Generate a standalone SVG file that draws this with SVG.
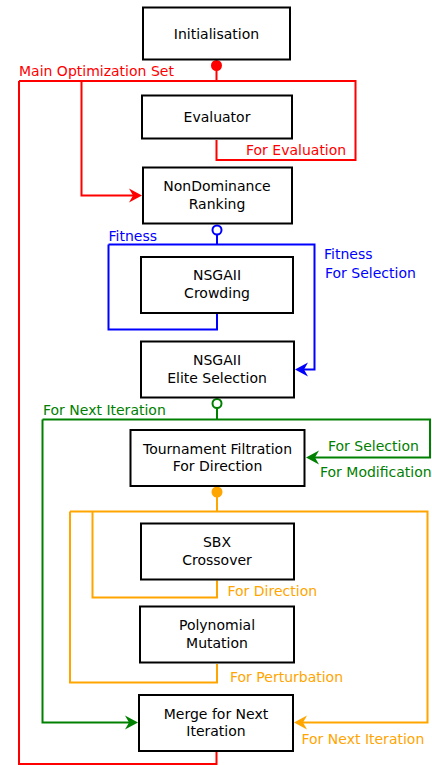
<svg xmlns="http://www.w3.org/2000/svg" width="432" height="765" viewBox="0 0 432 765">
<defs>
<style>
.box{fill:#fff;stroke:#000;stroke-width:2}
.nt{font-family:"DejaVu Sans","Liberation Sans",sans-serif;font-size:14px;fill:#000;text-anchor:middle}
.lb{font-family:"DejaVu Sans","Liberation Sans",sans-serif;font-size:14px}
.c{fill:none;stroke-width:2}
.r{stroke:#ff0000}.rt{fill:#ff0000}
.b{stroke:#0000ff}.bt{fill:#0000ff}
.g{stroke:#008000}.gt{fill:#008000}
.o{stroke:#ffa500}.ot{fill:#ffa500}
</style>
<marker id="ar" markerUnits="userSpaceOnUse" viewBox="-11 -8 15 16" refX="0" refY="0" markerWidth="15" markerHeight="16" orient="auto"><path d="M3,0 L-10,-7 L-6,0 L-10,7 Z" fill="#ff0000"/></marker>
<marker id="ab" markerUnits="userSpaceOnUse" viewBox="-11 -8 15 16" refX="0" refY="0" markerWidth="15" markerHeight="16" orient="auto"><path d="M3,0 L-10,-7 L-6,0 L-10,7 Z" fill="#0000ff"/></marker>
<marker id="ag" markerUnits="userSpaceOnUse" viewBox="-11 -8 15 16" refX="0" refY="0" markerWidth="15" markerHeight="16" orient="auto"><path d="M3,0 L-10,-7 L-6,0 L-10,7 Z" fill="#008000"/></marker>
<marker id="ao" markerUnits="userSpaceOnUse" viewBox="-11 -8 15 16" refX="0" refY="0" markerWidth="15" markerHeight="16" orient="auto"><path d="M3,0 L-10,-7 L-6,0 L-10,7 Z" fill="#ffa500"/></marker>
</defs>
<rect width="432" height="765" fill="#fff"/>
<g id="connectors">
<path class="c r" d="M216.5,65 V81"/>
<path class="c r" d="M19,81 H355.5 V160 H216.5 V140"/>
<path class="c r" d="M81.5,81 V195.5 H139" marker-end="url(#ar)"/>
<path class="c r" d="M216.5,752 V764 H19 V81"/>
<circle cx="216.5" cy="65.5" r="5.5" fill="#ff0000"/>
<path class="c b" d="M217,234.5 V244.5"/>
<path class="c b" d="M108.5,244.5 H314.5 V369.5 H298" marker-end="url(#ab)"/>
<path class="c b" d="M108.5,244.5 V329.5 H217 V314"/>
<circle cx="217" cy="230" r="4.5" fill="#fff" stroke="#0000ff" stroke-width="2"/>
<path class="c g" d="M217,408 V419.5"/>
<path class="c g" d="M42.5,419.5 H430 V457.5 H309" marker-end="url(#ag)"/>
<path class="c g" d="M42.5,419.5 V722.5 H135" marker-end="url(#ag)"/>
<circle cx="217" cy="403.5" r="4.5" fill="#fff" stroke="#008000" stroke-width="2"/>
<path class="c o" d="M217,492 V511.5"/>
<path class="c o" d="M70,511.5 H427.5 V722.5 H297" marker-end="url(#ao)"/>
<path class="c o" d="M92.5,511.5 V597.5 H217 V580.5"/>
<path class="c o" d="M70,511.5 V682.5 H217 V664"/>
<circle cx="217" cy="492" r="5.5" fill="#ffa500"/>
<text class="lb rt" x="19" y="76">Main Optimization Set</text>
<text class="lb rt" x="246" y="155">For Evaluation</text>
<text class="lb bt" x="108.5" y="240.5">Fitness</text>
<text class="lb bt" x="324" y="259">Fitness</text>
<text class="lb bt" x="325" y="277.5">For Selection</text>
<text class="lb gt" x="43" y="414.5">For Next Iteration</text>
<text class="lb gt" x="328" y="451">For Selection</text>
<text class="lb gt" x="320" y="476.5">For Modification</text>
<text class="lb ot" x="227.5" y="596">For Direction</text>
<text class="lb ot" x="230" y="682">For Perturbation</text>
<text class="lb ot" x="301.5" y="743.5">For Next Iteration</text>
</g>
<g id="initialisation"><rect class="box" x="143" y="7.5" width="147" height="52"/><text class="nt" x="216.5" y="38.5">Initialisation</text></g>
<g id="evaluator"><rect class="box" x="142" y="95.5" width="150" height="43"/><text class="nt" x="217" y="122">Evaluator</text></g>
<g id="nondominance"><rect class="box" x="143" y="167.5" width="149" height="56"/><text class="nt" x="217" y="191">NonDominance</text><text class="nt" x="217" y="208.5">Ranking</text></g>
<g id="crowding"><rect class="box" x="141" y="257" width="152" height="56"/><text class="nt" x="217" y="280">NSGAII</text><text class="nt" x="217" y="297.5">Crowding</text></g>
<g id="elite"><rect class="box" x="141" y="341.5" width="153" height="56"/><text class="nt" x="217" y="365">NSGAII</text><text class="nt" x="217" y="382.5">Elite Selection</text></g>
<g id="tournament"><rect class="box" x="130.5" y="430" width="174" height="56"/><text class="nt" x="217.5" y="453.5">Tournament Filtration</text><text class="nt" x="217.5" y="471">For Direction</text></g>
<g id="sbx"><rect class="box" x="141" y="523.5" width="153" height="56"/><text class="nt" x="217" y="547">SBX</text><text class="nt" x="217" y="564.5">Crossover</text></g>
<g id="polynomial"><rect class="box" x="140" y="606.5" width="154" height="56"/><text class="nt" x="217" y="630">Polynomial</text><text class="nt" x="217" y="647.5">Mutation</text></g>
<g id="merge"><rect class="box" x="139" y="695" width="154" height="56"/><text class="nt" x="216" y="718.5">Merge for Next</text><text class="nt" x="216" y="736">Iteration</text></g>
</svg>
